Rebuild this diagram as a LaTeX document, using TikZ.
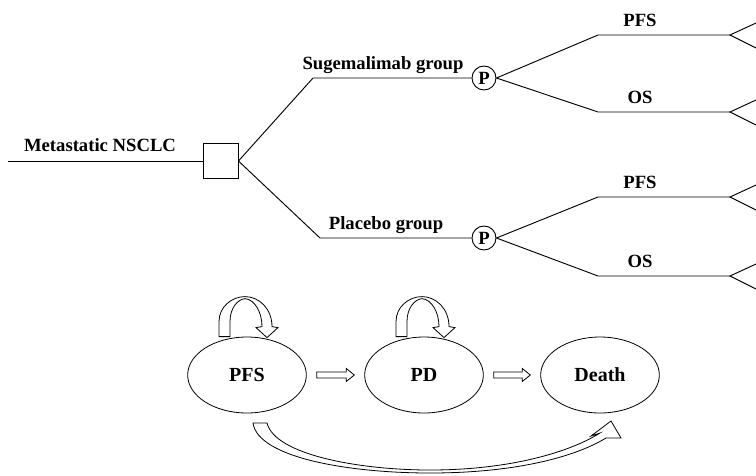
\documentclass[tikz,border=0pt]{standalone}
\usepackage{fontspec}
\setmainfont{Liberation Serif}
\usetikzlibrary{shapes.geometric,calc}
\begin{document}
\begin{tikzpicture}[x=0.75pt,y=-0.75pt,
  line width=0.7pt,
  lbl/.style={font=\fontsize{14}{16}\selectfont\bfseries, anchor=base, inner sep=0},
  decbox/.style={draw, minimum size=26.25pt, inner sep=0},
  chance/.style={draw, circle, minimum size=18pt, inner sep=0, font=\fontsize{14}{15}\selectfont\bfseries},
  state/.style={draw, ellipse, minimum width=89pt, minimum height=57pt, inner sep=0, line width=0.6pt, font=\fontsize{15}{16}\selectfont\bfseries},
  block/.style={draw, fill=white, line width=0.6pt, line join=miter}]
\path[use as bounding box] (0,0) rectangle (756,475);

% ---------- decision tree ----------
\coordinate (start) at (8,161);
\node[decbox] (sq) at (220.5,161) {};
\coordinate (cu) at (313,78);
\coordinate (cl) at (320,238);
\node[chance] (pu) at (484,78) {P};
\node[chance] (pl) at (484,238) {P};

\coordinate (a1) at (598,35);  \coordinate (b1) at (730,35);
\coordinate (a2) at (598,112); \coordinate (b2) at (730,112);
\coordinate (a3) at (598,197); \coordinate (b3) at (730,197);
\coordinate (a4) at (598,276); \coordinate (b4) at (730,276);
\foreach \i/\y in {1/35,2/112,3/197,4/276}{
  \coordinate (u\i) at (756,\y-12);
  \coordinate (d\i) at (756,\y+13);
}

\draw (start) -- (sq.west);
\draw (sq.east) -- (cu) -- (pu.west);
\draw (sq.east) -- (cl) -- (pl.west);
\draw (pu.east) -- (a1) -- (b1);
\draw (pu.east) -- (a2) -- (b2);
\draw (pl.east) -- (a3) -- (b3);
\draw (pl.east) -- (a4) -- (b4);
\foreach \i in {1,2,3,4}{
  \draw (u\i) -- (b\i) -- (d\i);
}

\node[lbl] (lmet) at (100,151) {Metastatic NSCLC};
\node[lbl] (lsug) at (383,69) {Sugemalimab group};
\node[lbl] (lpla) at (386,229) {Placebo group};
\node[lbl] (lpfs1) at (640,26) {PFS};
\node[lbl] (los1) at (640,103) {OS};
\node[lbl] (lpfs2) at (640,188) {PFS};
\node[lbl] (los2) at (640,267) {OS};

% ---------- state transition ----------
\node[state] (pfs) at (247,375) {PFS};
\node[state] (pd) at (424,375) {PD};
\node[state] (death) at (600,375) {Death};

% straight hollow arrows
\draw[block] ($(pfs.east)+(10,3)$) -- ($(pd.west)+(-18,3)$) -- ($(pd.west)+(-18,6.5)$)
  -- ($(pd.west)+(-10,0)$) -- ($(pd.west)+(-18,-6.5)$) -- ($(pd.west)+(-18,-3)$)
  -- ($(pfs.east)+(10,-3)$) -- cycle;
\draw[block] ($(pd.east)+(10,3)$) -- ($(death.west)+(-18,3)$) -- ($(death.west)+(-18,6.5)$)
  -- ($(death.west)+(-10,0)$) -- ($(death.west)+(-18,-6.5)$) -- ($(death.west)+(-18,-3)$)
  -- ($(pd.east)+(10,-3)$) -- cycle;

% self loops
\foreach \n in {pfs,pd}{
  \begin{scope}[shift={(\n.north)}]
    \draw[block] (-28,0) -- (-28,-15) .. controls (-28,-30) and (-15,-40) .. (-2,-40)
      .. controls (12,-40) and (25,-28) .. (25,-10) -- (31,-9) -- (20,1) -- (9,-9) -- (15,-10)
      .. controls (15,-24) and (8,-37) .. (-2,-38)
      .. controls (-10,-37) and (-17,-28) .. (-17,-15) -- (-17,0) -- cycle;
  \end{scope}
}

% curved arrow PFS -> Death
\draw[block] (253,423) .. controls (258,458) and (350,473) .. (430,473)
  .. controls (515,473) and (575,457) .. (606,438)
  -- (621,438) -- (611,421) -- (591,436) -- (600,433)
  .. controls (570,452) and (510,470) .. (430,470)
  .. controls (360,470) and (275,455) .. (267,423) -- cycle;
\end{tikzpicture}
\end{document}
